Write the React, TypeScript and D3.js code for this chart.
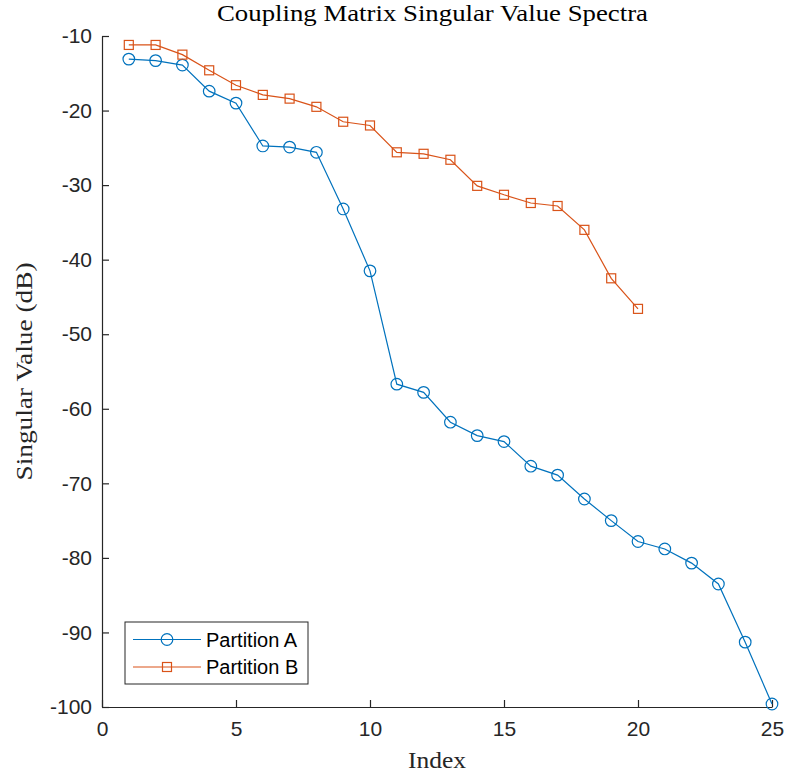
import { useEffect, useRef } from 'react'
import * as d3 from 'd3'

const indexA = d3.range(1, 26)
const valuesA = [
  -13.1, -13.3, -13.9, -17.4, -19.0, -24.75, -24.9, -25.6, -33.2, -41.5, -56.7, -57.8, -61.8,
  -63.6, -64.4, -67.7, -68.9, -72.1, -75.0, -77.8, -78.8, -80.7, -83.5, -91.3, -99.6,
]
const indexB = d3.range(1, 21)
const valuesB = [
  -11.2, -11.2, -12.5, -14.6, -16.6, -17.9, -18.4, -19.5, -21.5, -22.0, -25.6, -25.8, -26.6,
  -30.1, -31.3, -32.4, -32.8, -36.0, -42.5, -46.6,
]
const xTicks = [0, 5, 10, 15, 20, 25]
const yTicks = [-100, -90, -80, -70, -60, -50, -40, -30, -20, -10]

const width = 787
const height = 776
const margin = { top: 36, right: 15, bottom: 69, left: 102 }
const axisColor = '#262626'
const sans = '"Liberation Sans", Arial, sans-serif'
const serif = '"Liberation Serif", "DejaVu Serif", serif'

interface Pt {
  x: number
  y: number
}

export default function App() {
  const svgRef = useRef<SVGSVGElement>(null)

  useEffect(() => {
    if (!svgRef.current) return
    const svg = d3.select(svgRef.current)
    svg.selectAll('*').remove()

    const x = d3.scaleLinear().domain([0, 25]).range([margin.left, width - margin.right])
    const y = d3.scaleLinear().domain([-100, -10]).range([height - margin.bottom, margin.top])

    // axes (box off, ticks pointing in), plain hyphen for negatives like MATLAB
    const fmt = (d: d3.NumberValue) => String(d)
    const gx = svg
      .append('g')
      .attr('transform', `translate(0,${height - margin.bottom})`)
      .call(
        d3.axisBottom(x).tickValues(xTicks).tickFormat(fmt).tickSize(-7).tickPadding(14).tickSizeOuter(0),
      )
    const gy = svg
      .append('g')
      .attr('transform', `translate(${margin.left},0)`)
      .call(
        d3.axisLeft(y).tickValues(yTicks).tickFormat(fmt).tickSize(-7).tickPadding(10).tickSizeOuter(0),
      )
    for (const g of [gx, gy]) {
      g.select('.domain').attr('stroke', axisColor).attr('stroke-width', 1.2)
      g.selectAll('.tick line').attr('stroke', axisColor).attr('stroke-width', 1.2)
      g.selectAll('.tick text')
        .attr('fill', axisColor)
        .attr('font-family', sans)
        .attr('font-size', 21)
    }

    const line = d3
      .line<Pt>()
      .x((d) => x(d.x))
      .y((d) => y(d.y))

    const series = [
      { pts: indexA.map((v, i) => ({ x: v, y: valuesA[i] })), color: '#0072BD', marker: 'circle' },
      { pts: indexB.map((v, i) => ({ x: v, y: valuesB[i] })), color: '#D95319', marker: 'square' },
    ]

    const drawMarker = (
      g: d3.Selection<SVGGElement, unknown, null, undefined>,
      kind: string,
      cx: number,
      cy: number,
      color: string,
    ) => {
      if (kind === 'circle') {
        g.append('circle')
          .attr('cx', cx)
          .attr('cy', cy)
          .attr('r', 5.8)
          .attr('fill', 'none')
          .attr('stroke', color)
          .attr('stroke-width', 1.2)
      } else {
        g.append('rect')
          .attr('x', cx - 4.5)
          .attr('y', cy - 4.5)
          .attr('width', 9)
          .attr('height', 9)
          .attr('fill', 'none')
          .attr('stroke', color)
          .attr('stroke-width', 1.2)
      }
    }

    const plot = svg.append('g')
    series.forEach((s) => {
      plot
        .append('path')
        .datum(s.pts)
        .attr('fill', 'none')
        .attr('stroke', s.color)
        .attr('stroke-width', 1.2)
        .attr('d', line)
      s.pts.forEach((p) => drawMarker(plot, s.marker, x(p.x), y(p.y), s.color))
    })

    // title and labels (latex-like serif, stretched to the wider Computer Modern metrics)
    svg
      .append('text')
      .attr('x', 432.5)
      .attr('y', 21)
      .attr('text-anchor', 'middle')
      .attr('font-family', serif)
      .attr('font-size', 22.5)
      .attr('textLength', 431)
      .attr('lengthAdjust', 'spacingAndGlyphs')
      .attr('fill', '#000')
      .text('Coupling Matrix Singular Value Spectra')

    svg
      .append('text')
      .attr('x', (margin.left + width - margin.right) / 2)
      .attr('y', 768)
      .attr('text-anchor', 'middle')
      .attr('font-family', serif)
      .attr('font-size', 23)
      .attr('textLength', 58)
      .attr('lengthAdjust', 'spacingAndGlyphs')
      .attr('fill', axisColor)
      .text('Index')

    svg
      .append('text')
      .attr('transform', `translate(32,${(margin.top + height - margin.bottom) / 2}) rotate(-90)`)
      .attr('text-anchor', 'middle')
      .attr('font-family', serif)
      .attr('font-size', 23)
      .attr('textLength', 218)
      .attr('lengthAdjust', 'spacingAndGlyphs')
      .attr('fill', axisColor)
      .text('Singular Value (dB)')

    // legend
    const leg = svg.append('g').attr('transform', 'translate(125,622)')
    leg
      .append('rect')
      .attr('width', 183)
      .attr('height', 62)
      .attr('fill', '#fff')
      .attr('stroke', axisColor)
      .attr('stroke-width', 1)
    const labels = ['Partition A', 'Partition B']
    series.forEach((s, i) => {
      const ly = 17.5 + i * 27.5
      leg
        .append('line')
        .attr('x1', 8)
        .attr('x2', 76)
        .attr('y1', ly)
        .attr('y2', ly)
        .attr('stroke', s.color)
        .attr('stroke-width', 1.2)
      drawMarker(leg, s.marker, 42, ly, s.color)
      leg
        .append('text')
        .attr('x', 81)
        .attr('y', ly + 7)
        .attr('font-family', sans)
        .attr('font-size', 20)
        .attr('fill', '#000')
        .text(labels[i])
    })
  }, [])

  return (
    <svg
      ref={svgRef}
      width={width}
      height={height}
      style={{ position: 'absolute', left: 0, top: 0, background: '#fff' }}
    />
  )
}
